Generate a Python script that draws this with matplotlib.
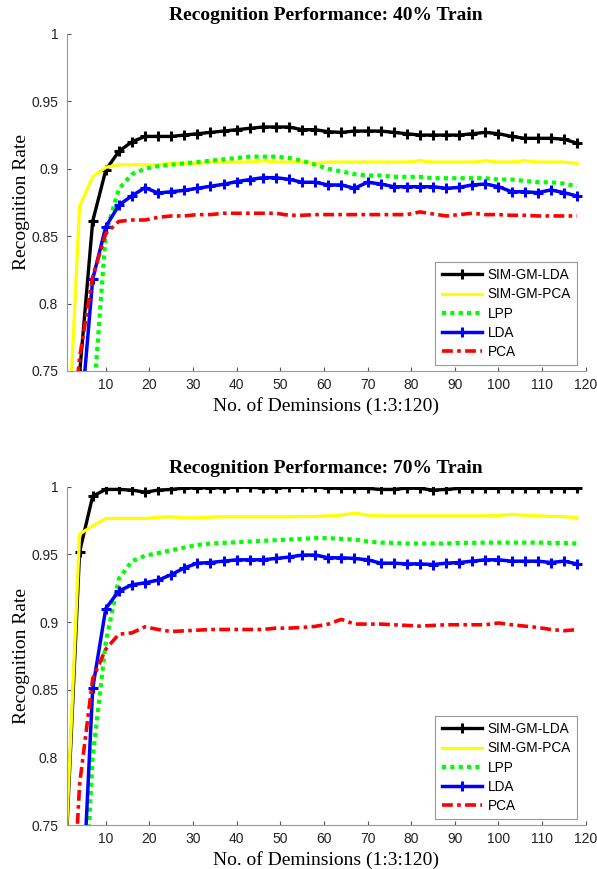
"""
SIM-GM-LDA / SIM-GM-PCA / LPP / LDA / PCA recognition rate vs. dimensions
"""
import numpy as np
import matplotlib
matplotlib.use('Agg')
import matplotlib.pyplot as plt
from matplotlib.ticker import FuncFormatter

plt.rcParams['font.family'] = ['Liberation Sans', 'DejaVu Sans']

# x: No. of dimensions, 1:3:120
dims = list(range(1, 121, 3))

# --- 40% train ---
lda_gm_40 = [0.62, 0.748, 0.861, 0.899, 0.913, 0.920, 0.924, 0.924, 0.924, 0.925,
             0.926, 0.927, 0.928, 0.929, 0.930, 0.931, 0.931, 0.931, 0.929, 0.929,
             0.9275, 0.927, 0.928, 0.928, 0.928, 0.927, 0.926, 0.925, 0.925, 0.925,
             0.925, 0.926, 0.927, 0.926, 0.924, 0.9226, 0.9226, 0.9226, 0.922, 0.919]
pca_gm_40 = [0.67, 0.872, 0.894, 0.901, 0.903, 0.903, 0.903, 0.903, 0.904, 0.904,
             0.904, 0.905, 0.905, 0.905, 0.905, 0.906, 0.905, 0.905, 0.905, 0.904,
             0.905, 0.905, 0.905, 0.905, 0.905, 0.905, 0.905, 0.906, 0.905, 0.905,
             0.905, 0.905, 0.906, 0.905, 0.905, 0.906, 0.905, 0.905, 0.905, 0.904]
lpp_40 = [0.50, 0.60, 0.72, 0.852, 0.885, 0.896, 0.900, 0.902, 0.903, 0.904,
          0.905, 0.906, 0.907, 0.908, 0.909, 0.909, 0.909, 0.908, 0.906, 0.903,
          0.900, 0.898, 0.896, 0.895, 0.895, 0.894, 0.894, 0.894, 0.893, 0.893,
          0.893, 0.893, 0.893, 0.892, 0.892, 0.891, 0.890, 0.890, 0.889, 0.887]
lda_40 = [0.60, 0.704, 0.818, 0.857, 0.873, 0.880, 0.886, 0.882, 0.883, 0.884,
          0.8855, 0.887, 0.8885, 0.8905, 0.892, 0.8934, 0.8934, 0.8922, 0.890, 0.890,
          0.888, 0.888, 0.8855, 0.890, 0.8887, 0.8867, 0.8867, 0.8867, 0.8867, 0.8855,
          0.8862, 0.888, 0.8887, 0.8867, 0.883, 0.883, 0.8823, 0.8843, 0.8823, 0.8798]
pca_40 = [0.66, 0.76, 0.82, 0.852, 0.861, 0.862, 0.862, 0.864, 0.865, 0.865,
          0.866, 0.866, 0.867, 0.867, 0.867, 0.867, 0.867, 0.8655, 0.8655, 0.866,
          0.866, 0.866, 0.866, 0.866, 0.866, 0.866, 0.866, 0.868, 0.8665, 0.865,
          0.866, 0.867, 0.866, 0.866, 0.8655, 0.8655, 0.865, 0.865, 0.865, 0.865]

# --- 70% train ---
lda_gm_70 = [0.74, 0.952, 0.993, 0.998, 0.998, 0.9975, 0.996, 0.9975, 0.998, 0.999,
             0.9992, 0.9992, 0.9992, 0.9998, 0.9995, 0.9992, 0.9992, 0.9995, 0.9997, 0.9998,
             0.999, 0.9988, 0.9988, 0.9988, 0.998, 0.998, 0.999, 0.9988, 0.9975, 0.998,
             0.9988, 0.9988, 0.9988, 0.9988, 0.9988, 0.9988, 0.9988, 0.9988, 0.9988, 0.9988]
pca_gm_70 = [0.745, 0.965, 0.971, 0.9765, 0.9765, 0.9765, 0.9765, 0.9775, 0.9778, 0.977,
             0.977, 0.9775, 0.9778, 0.9778, 0.9778, 0.9778, 0.9778, 0.9778, 0.978, 0.978,
             0.9785, 0.979, 0.9805, 0.979, 0.9785, 0.9785, 0.9785, 0.9785, 0.9785, 0.9785,
             0.9785, 0.9785, 0.9785, 0.9788, 0.9795, 0.979, 0.9785, 0.978, 0.978, 0.977]
lpp_70 = [0.50, 0.62, 0.80, 0.885, 0.932, 0.945, 0.949, 0.951, 0.953, 0.955,
          0.957, 0.958, 0.9585, 0.959, 0.9595, 0.960, 0.9605, 0.961, 0.9615, 0.962,
          0.962, 0.9615, 0.961, 0.9595, 0.9587, 0.9585, 0.958, 0.958, 0.958, 0.958,
          0.9585, 0.9585, 0.9587, 0.9587, 0.9587, 0.9587, 0.9587, 0.9585, 0.9583, 0.958]
lda_70 = [0.50, 0.65, 0.851, 0.910, 0.923, 0.9275, 0.929, 0.931, 0.935, 0.940,
          0.9435, 0.944, 0.945, 0.946, 0.946, 0.946, 0.947, 0.948, 0.9495, 0.9495,
          0.9475, 0.9475, 0.947, 0.946, 0.9435, 0.9435, 0.943, 0.943, 0.9425, 0.9435,
          0.944, 0.945, 0.946, 0.946, 0.945, 0.945, 0.945, 0.944, 0.945, 0.943]
pca_70 = [0.60, 0.78, 0.858, 0.88, 0.891, 0.892, 0.8965, 0.8945, 0.893, 0.8935,
          0.894, 0.8945, 0.8945, 0.8945, 0.8945, 0.8945, 0.8955, 0.8955, 0.896, 0.8968,
          0.8985, 0.902, 0.8985, 0.8985, 0.8985, 0.898, 0.8975, 0.897, 0.8975, 0.898,
          0.898, 0.898, 0.898, 0.8993, 0.898, 0.897, 0.896, 0.8945, 0.8936, 0.8944]

labels = ['SIM-GM-LDA', 'SIM-GM-PCA', 'LPP', 'LDA', 'PCA']
yticks = [0.75, 0.8, 0.85, 0.9, 0.95, 1]
xticks = [10, 20, 30, 40, 50, 60, 70, 80, 90, 100, 110, 120]

panels = [
    ('Recognition Performance: 40% Train', [lda_gm_40, pca_gm_40, lpp_40, lda_40, pca_40]),
    ('Recognition Performance: 70% Train', [lda_gm_70, pca_gm_70, lpp_70, lda_70, pca_70]),
]

fig = plt.figure(figsize=(5.97, 8.69), dpi=100)
ax_top = fig.add_axes([0.1114, 0.5731, 0.8697, 0.3878])
ax_bot = fig.add_axes([0.1114, 0.0506, 0.8697, 0.3893])

serif = ['Liberation Serif', 'DejaVu Serif']

for ax, (title, series) in zip([ax_top, ax_bot], panels):
    s_ldagm, s_pcagm, s_lpp, s_lda, s_pca = series
    ax.plot(dims, s_ldagm, color='black', lw=2.4, marker='+', ms=7, mew=2.2,
            label=labels[0])
    ax.plot(dims, s_pcagm, color='#ffff00', lw=2.3, label=labels[1])
    ax.plot(dims, s_lpp, color='#00ff00', lw=3.0, linestyle=(0, (1, 1)),
            dash_capstyle='butt', label=labels[2])
    ax.plot(dims, s_lda, color='#0000ff', lw=2.5, marker='+', ms=7, mew=2.2,
            label=labels[3])
    ax.plot(dims, s_pca, color='#ff0000', lw=2.6, linestyle=(0, (3, 1.2, 1, 1.2)),
            dash_capstyle='butt', label=labels[4])

    ax.set_xlim(1, 120)
    ax.set_ylim(0.75, 1)
    ax.set_xticks(xticks)
    ax.set_yticks(yticks)
    ax.yaxis.set_major_formatter(FuncFormatter(lambda v, _: f'{v:g}'))
    ax.tick_params(direction='in', length=3, width=0.8, color='#555555',
                   labelsize=10, labelcolor='#222222')
    ax.tick_params(axis='x', pad=5)
    ax.tick_params(axis='y', pad=6)
    for side in ['top', 'right']:
        ax.spines[side].set_visible(False)
    for side in ['left', 'bottom']:
        ax.spines[side].set_color('#999999')
        ax.spines[side].set_linewidth(0.8)

    ax.set_title(title, fontsize=14, fontweight='bold', family=serif, pad=10)
    ax.set_xlabel('No. of Deminsions (1:3:120)', fontsize=14, family=serif, labelpad=4)
    ax.set_ylabel('Recognition Rate', fontsize=14, family=serif, labelpad=1)

    leg = ax.legend(loc='lower right', bbox_to_anchor=(1 - 8.4 / 519, 6 / 337),
                    borderaxespad=0, fancybox=False, framealpha=1,
                    edgecolor='#999999', fontsize=9.8, handlelength=3.0,
                    labelspacing=0.38, handletextpad=0.4, borderpad=0.45)
    leg.get_frame().set_linewidth(0.8)

plt.savefig('out.png', dpi=100)
